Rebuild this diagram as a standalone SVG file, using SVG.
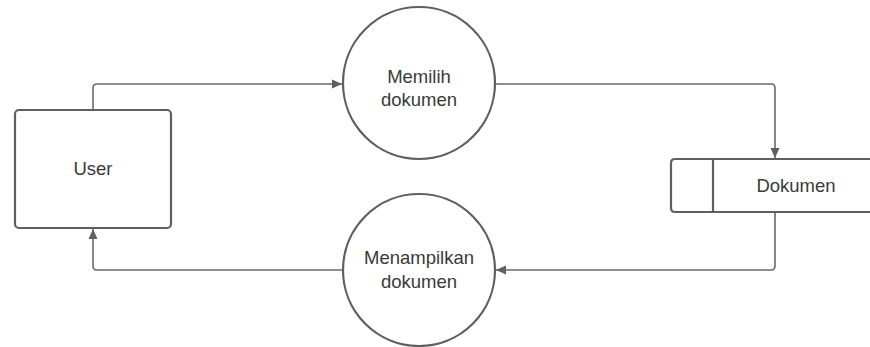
<svg xmlns="http://www.w3.org/2000/svg" width="870" height="347" viewBox="0 0 870 347">
<style>
.shape{fill:#fff;stroke:#5f5f5f;stroke-width:2.2}
.conn{fill:none;stroke:#6a6a6a;stroke-width:1.6}
.lbl{font-family:"Liberation Sans",Arial,sans-serif;font-size:18.5px;fill:#3a3a3a;text-anchor:middle}
</style>
<defs>
<marker id="arr" viewBox="0 0 10 10" refX="10" refY="5" markerWidth="10" markerHeight="10" markerUnits="userSpaceOnUse" orient="auto">
<path d="M0,0.5 L10,5 L0,9.5 Z" fill="#5f5f5f"/>
</marker>
</defs>
<rect width="870" height="347" fill="#fff"/>
<g id="connectors">
<path class="conn" d="M93,110 V88 Q93,84 97,84 H342" marker-end="url(#arr)"/>
<path class="conn" d="M495,84 H771 Q775,84 775,88 V158" marker-end="url(#arr)"/>
<path class="conn" d="M775,212 V266 Q775,270 771,270 H496" marker-end="url(#arr)"/>
<path class="conn" d="M343,270 H97 Q93,270 93,266 V229" marker-end="url(#arr)"/>
</g>
<g id="user">
<rect class="shape" x="15" y="110" width="156" height="118" rx="4"/>
<text class="lbl" x="93" y="175">User</text>
</g>
<g id="memilih">
<circle class="shape" cx="419" cy="83" r="76"/>
<text class="lbl" x="419" y="83">Memilih</text>
<text class="lbl" x="419" y="106">dokumen</text>
</g>
<g id="menampilkan">
<circle class="shape" cx="419" cy="270" r="76"/>
<text class="lbl" x="419" y="264">Menampilkan</text>
<text class="lbl" x="419" y="288">dokumen</text>
</g>
<g id="dokumen">
<path class="shape" d="M880,159 H675 Q671,159 671,163 V208 Q671,212 675,212 H880"/>
<line class="shape" x1="713" y1="159" x2="713" y2="212"/>
<text class="lbl" x="796" y="192">Dokumen</text>
</g>
</svg>
